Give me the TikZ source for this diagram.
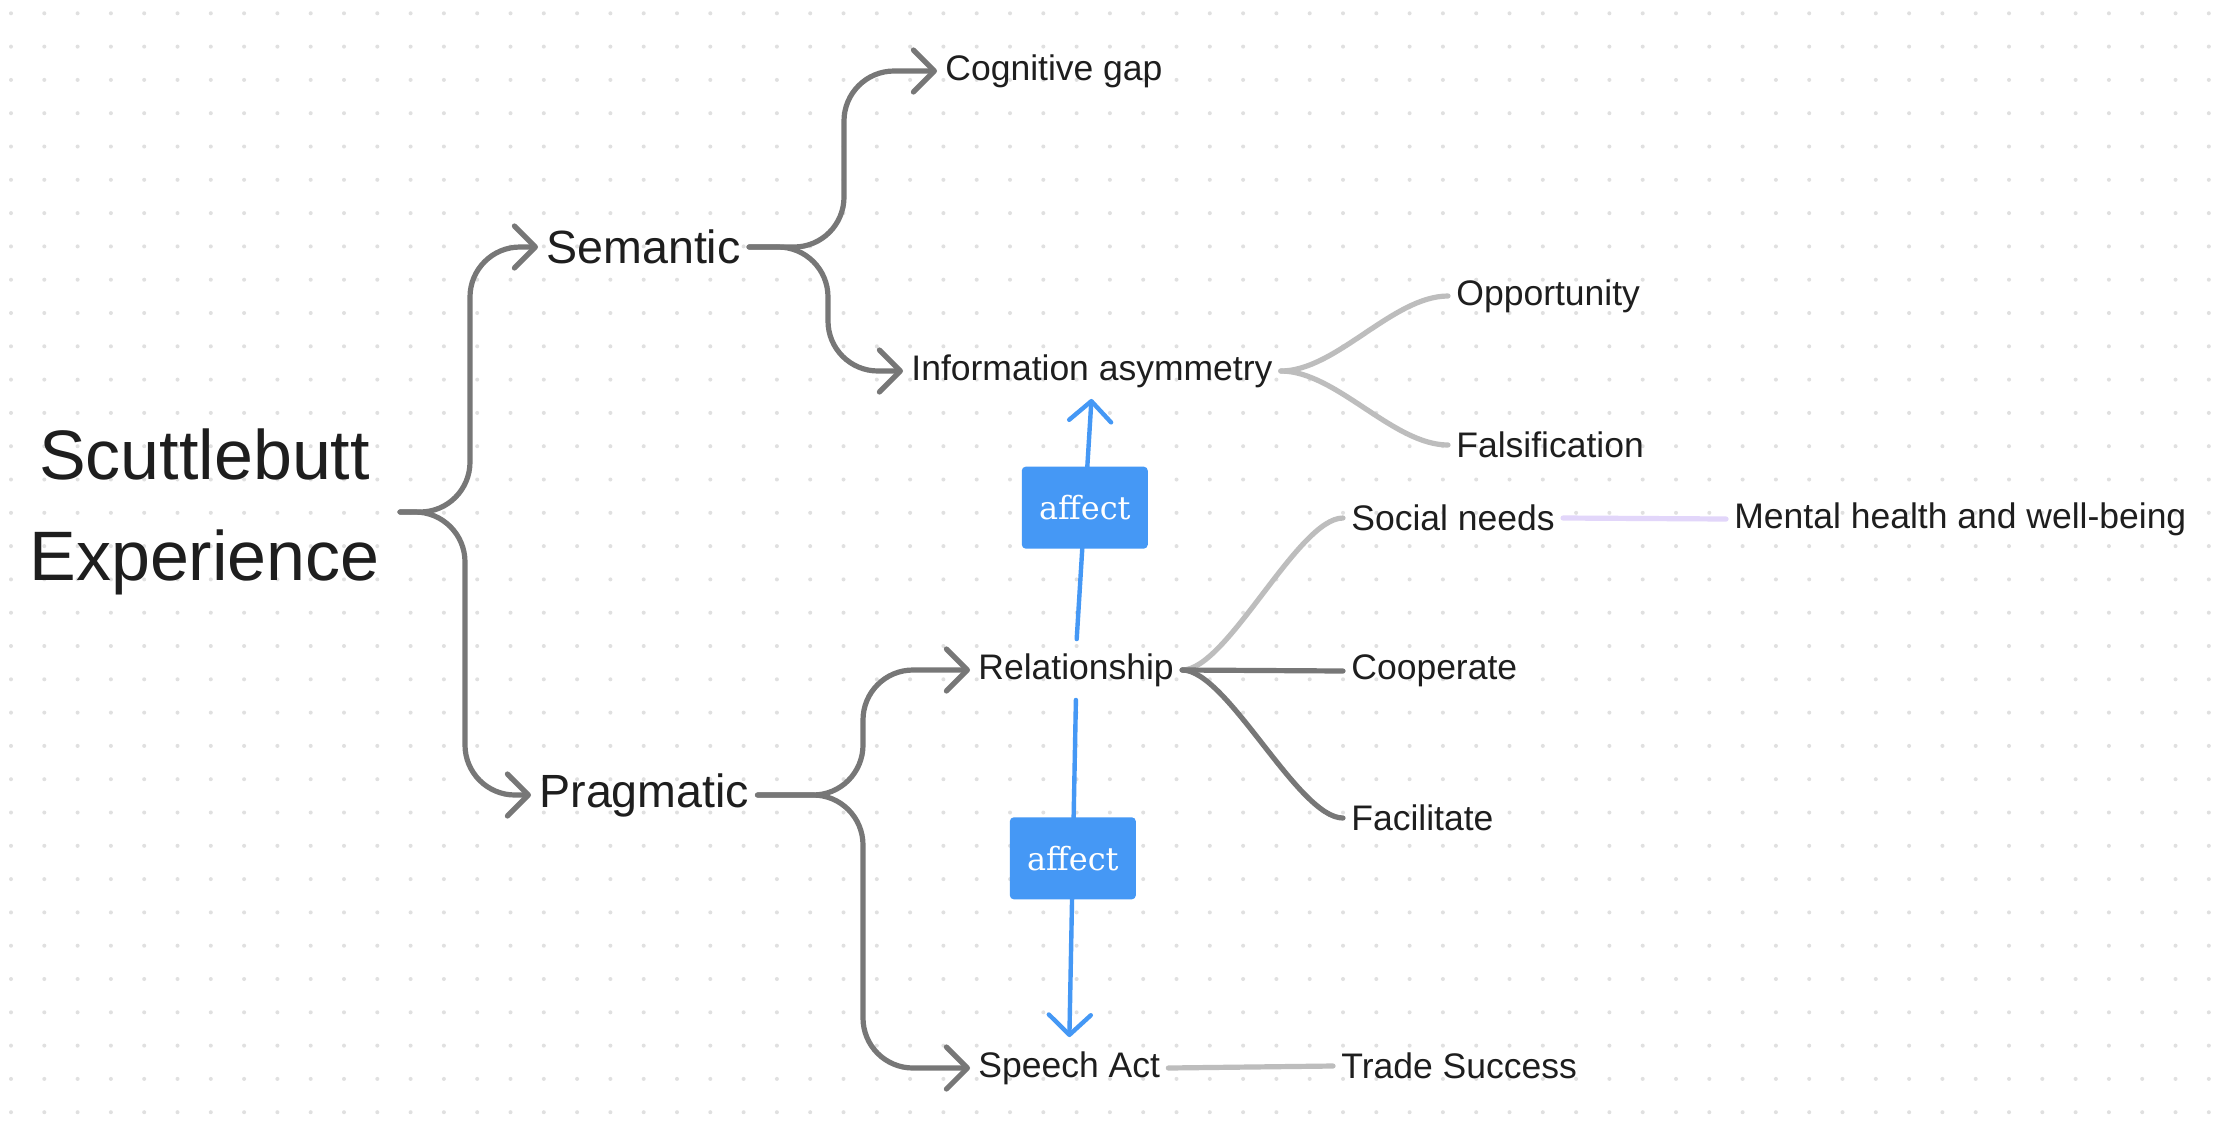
\documentclass[tikz,border=0pt]{standalone}
\usepackage{fontspec}
\setsansfont{Liberation Sans}
\newfontfamily\affectfont{DejaVu Serif}
\usetikzlibrary{arrows.meta}

\definecolor{branchgray}{HTML}{777777}
\definecolor{leafgray}{HTML}{BDBDBD}
\definecolor{affectblue}{HTML}{4598F5}
\definecolor{wellpurple}{HTML}{E2D6FA}
\definecolor{dotgray}{HTML}{E0E0E0}
\definecolor{inkblack}{HTML}{1E1E1E}

\tikzset{
  topic/.style={anchor=west, inner xsep=4pt, inner ysep=2pt, text=inkblack,
    font=\sffamily\fontsize{17.75}{21}\selectfont},
  subtopic/.style={topic, font=\sffamily\fontsize{23.3}{28}\selectfont},
  branch/.style={draw=branchgray, line width=2.6pt, rounded corners=25pt, line cap=round,
    -{Straight Barb[length=10.5pt,width=21pt,round]}},
  twig/.style={line width=2.6pt, line cap=round},
  affectline/.style={draw=affectblue, line width=2.2pt, line cap=round,
    -{Straight Barb[length=10pt,width=21pt,round]}},
  affectbox/.style={fill=affectblue, text=white, rounded corners=2pt,
    minimum width=63pt, minimum height=41pt, font=\affectfont\fontsize{16}{20}\selectfont},
}

\begin{document}
\begin{tikzpicture}[x=0.5pt,y=-0.5pt]
\useasboundingbox (0,0) rectangle (2238,1126);
\fill [white] (0,0) rectangle (2238,1126);
\foreach \i in {0,...,66}
  \foreach \j in {0,...,33}
    \fill [dotgray] (11+33.3*\i,13.3+33.3*\j) circle [radius=1pt];
%%%%%%%%%
\node [anchor=east, align=center, inner xsep=10pt, text=inkblack,
  font=\sffamily\fontsize{35}{50.5}\selectfont] (root) at (400,512) {Scuttlebutt\\Experience};
\node [subtopic] (sem) at (538,247) {Semantic};
\node [subtopic] (prag) at (531,795) {Pragmatic};
\node [topic] (cog) at (937,71) {Cognitive gap};
\node [topic] (info) at (903,371) {Information asymmetry};
\node [topic] (rel) at (970,670) {Relationship};
\node [topic] (speech) at (970,1068) {Speech Act};
\node [topic] (opp) at (1448,296) {Opportunity};
\node [topic] (fals) at (1448,445) {Falsification};
\node [topic] (social) at (1343,518) {Social needs};
\node [topic] (coop) at (1343,671) {Cooperate};
\node [topic] (facil) at (1343,818) {Facilitate};
\node [topic] (mental) at (1726,519) {Mental health and well-being};
\node [topic] (trade) at (1333,1066) {Trade Success};
%%%%%%%%%
\draw [branch] (root.east) -| ([xshift=-34pt]sem.west) -- (sem.west);
\draw [branch] (root.east) -| ([xshift=-33pt]prag.west) -- (prag.west);
\draw [branch] (sem.east) -| ([xshift=-46.5pt]cog.west) -- (cog.west);
\draw [branch] (sem.east) -| ([xshift=-37.5pt]info.west) -- (info.west);
\draw [branch] (prag.east) -| ([xshift=-53.5pt]rel.west) -- (rel.west);
\draw [branch] (prag.east) -| ([xshift=-53.5pt]speech.west) -- (speech.west);
%%%%%%%%%
\draw [twig, leafgray] (info.east) .. controls +(55,0) and +(-55,0) .. (opp.west);
\draw [twig, leafgray] (info.east) .. controls +(55,0) and +(-55,0) .. (fals.west);
\draw [twig, leafgray] (rel.east) .. controls +(45,0) and +(-45,0) .. (social.west);
\draw [twig, branchgray] (rel.east) -- (coop.west);
\draw [twig, branchgray] (rel.east) .. controls +(45,0) and +(-45,0) .. (facil.west);
\draw [twig, wellpurple] (social.east) -- (mental.west);
\draw [twig, leafgray] (speech.east) -- (trade.west);
%%%%%%%%%
\draw [affectline, shorten <=5pt, shorten >=3.5pt] (rel.north)
  -- node [affectbox, pos=0.55] {affect} (info.south);
\draw [affectline, shorten <=4.5pt, shorten >=5pt] (rel.south)
  -- node [affectbox, pos=0.47] {affect} (speech.north);
\end{tikzpicture}
\end{document}
